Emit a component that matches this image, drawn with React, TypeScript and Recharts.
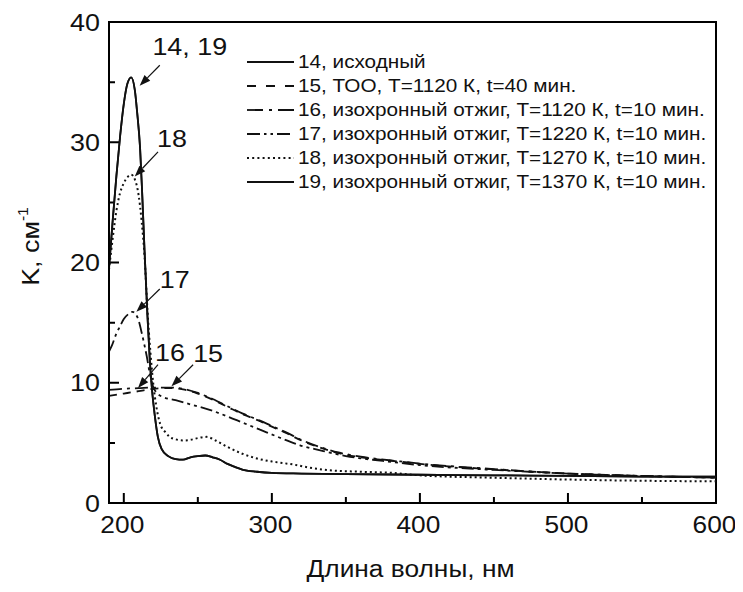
import React from 'react';
import { LineChart, Line, XAxis, YAxis, ReferenceLine } from 'recharts';

const FONT = '"Liberation Sans", Arial, Helvetica, sans-serif';
const STRETCH = 1.12; // шрифт на скане чуть растянут по горизонтали
const INK = '#111';
const FRAME = '#000';

// длина волны (нм) / K (см^-1)
const wl14 = [190, 192.5, 195, 197.5, 200, 202.5, 205, 207.5, 209, 211, 212.5, 214, 216, 217.5, 219, 221, 223, 225.5, 230, 235, 240, 245, 250, 255, 260, 265, 270, 275, 280, 290, 300, 320, 350, 400, 450, 500, 550, 600];
const k14 = [19.5, 23.5, 27.2, 30.5, 33.2, 34.9, 35.4, 34.3, 32.5, 29.5, 25.5, 21, 15.5, 12, 9.5, 7.2, 5.5, 4.5, 3.9, 3.65, 3.6, 3.8, 3.9, 3.95, 3.8, 3.6, 3.25, 3.0, 2.78, 2.6, 2.5, 2.45, 2.4, 2.35, 2.3, 2.25, 2.2, 2.2];

const wl15 = [190, 200, 210, 220, 231, 240, 250, 260, 270, 280, 292, 300, 310, 320, 332.6, 345, 360, 386.6, 400, 450, 500, 550, 600];
const k15 = [8.9, 9.1, 9.3, 9.5, 9.55, 9.45, 9.1, 8.6, 8.0, 7.4, 6.8, 6.35, 5.8, 5.2, 4.6, 4.15, 3.8, 3.44, 3.25, 2.8, 2.45, 2.25, 2.1];

const wl16 = [190, 200, 210, 220, 231, 240, 250, 260, 270, 280, 292, 300, 310, 320, 332.6, 345, 360, 386.6, 400, 450, 500, 550, 600];
const k16 = [9.4, 9.5, 9.55, 9.6, 9.6, 9.5, 9.15, 8.65, 8.05, 7.45, 6.85, 6.4, 5.85, 5.25, 4.65, 4.2, 3.85, 3.46, 3.28, 2.82, 2.45, 2.25, 2.12];

const wl17 = [190, 192, 195, 197.5, 200, 203, 206, 208, 210, 212, 214, 215.5, 217.5, 220, 222, 226.7, 235, 245, 258, 270, 280, 292, 305, 319, 332, 350, 375, 400, 450, 500, 550, 600];
const k17 = [12.6, 13.1, 14.1, 14.7, 15.3, 15.7, 15.9, 15.7, 15.2, 14.2, 13.1, 12.2, 10.8, 9.6, 9.2, 8.8, 8.55, 8.2, 7.75, 7.2, 6.7, 6.1, 5.45, 4.8, 4.4, 3.9, 3.5, 3.15, 2.75, 2.45, 2.25, 2.1];

const wl18 = [190, 192.5, 195, 197.5, 200, 202.5, 205, 207.5, 210, 212, 214, 216, 218, 220, 222, 224.5, 228, 231, 235, 240, 245, 250, 256, 262, 269.5, 280, 290, 300, 314.5, 325, 337, 360, 382, 400, 450, 500, 550, 600];
const k18 = [19.4, 22, 24.3, 25.8, 26.6, 27.1, 27.3, 26.9, 25.6, 23.5, 20.5, 16, 12.5, 9.8, 8, 6.6, 5.9, 5.5, 5.3, 5.2, 5.25, 5.4, 5.5, 5.2, 4.7, 4.1, 3.7, 3.45, 3.2, 2.95, 2.75, 2.6, 2.5, 2.3, 2.1, 1.95, 1.85, 1.8];

// кривая 19 совпадает с 14
const wl19 = wl14;
const k19 = k14;

const xDomain = [190, 600];
const yDomain = [0, 40];
const xTicks = [200, 250, 300, 350, 400, 450, 500, 550, 600];
const yTicks = [0, 5, 10, 15, 20, 25, 30, 35, 40];

const names = [
  '14, исходный',
  '15, ТОО, T=1120 К, t=40 мин.',
  '16, изохронный отжиг, T=1120 К, t=10 мин.',
  '17, изохронный отжиг, T=1220 К, t=10 мин.',
  '18, изохронный отжиг, T=1270 К, t=10 мин.',
  '19, изохронный отжиг, T=1370 К, t=10 мин.',
];

// подписи со стрелками: [нм, K] хвоста и острия
const arrows = [
  { text: '14, 19', tail: [224.3, 36.4], tip: [210.7, 34.7], dx: 30, dy: -19 },
  { text: '18', tail: [223.1, 29.2], tip: [207.4, 27.15], dx: 14, dy: -13 },
  { text: '17', tail: [224.3, 17.8], tip: [208.5, 15.9], dx: 15, dy: -10 },
  { text: '16', tail: [223.1, 11.5], tip: [209.6, 9.56], dx: 12, dy: -12 },
  { text: '15', tail: [246.8, 11.5], tip: [232.2, 9.7], dx: 15, dy: -11 },
];

const toPoints = (wl: number[], k: number[]) => wl.map((x, i) => ({ x, k: k[i] }));

const series = [
  { id: '14', data: toPoints(wl14, k14), dash: undefined, legendDash: undefined, width: 1.8 },
  { id: '15', data: toPoints(wl15, k15), dash: '8 6', legendDash: '9 10', width: 1.8 },
  { id: '16', data: toPoints(wl16, k16), dash: '13 5 3 5', legendDash: '16 6 3 6', width: 1.8 },
  { id: '17', data: toPoints(wl17, k17), dash: '12 4 3 4 3 4', legendDash: '13 4 2.5 4 2.5 4', width: 1.8 },
  { id: '18', data: toPoints(wl18, k18), dash: '2 3', legendDash: '2 3.2', width: 2 },
  { id: '19', data: toPoints(wl19, k19), dash: undefined, legendDash: undefined, width: 1.8 },
];

// рамка и засечки рисуются одним контуром по углам поля графика
const frameShape = (p: any) => {
  const left = Math.min(p.x1, p.x2);
  const right = Math.max(p.x1, p.x2);
  const top = Math.min(p.y1, p.y2);
  const bottom = Math.max(p.y1, p.y2);
  const sx = (right - left) / (xDomain[1] - xDomain[0]);
  const sy = (bottom - top) / (yDomain[1] - yDomain[0]);
  let d = `M${left},${top}H${right}V${bottom}H${left}Z`;
  xTicks.forEach((v) => {
    const x = left + (v - xDomain[0]) * sx;
    d += `M${x},${bottom}v${v % 100 === 0 ? -10 : -6}`;
  });
  yTicks.forEach((v) => {
    const y = bottom - (v - yDomain[0]) * sy;
    d += `M${left},${y}h${v % 10 === 0 ? 10 : 6}`;
  });
  return <path d={d} fill="none" stroke={FRAME} strokeWidth={2} />;
};

const XTick = (props: any) => {
  const { x, y, payload } = props;
  const v = payload.value;
  if (v % 100 !== 0) return <g />;
  return (
    <text transform={`translate(${x - 1.5},${y + 30}) scale(${STRETCH},1)`} textAnchor="middle"
      fontSize={23.5} fontFamily={FONT} fill={INK}>{v}</text>
  );
};

const YTick = (props: any) => {
  const { x, y, payload } = props;
  const v = payload.value;
  if (v % 10 !== 0) return <g />;
  return (
    <text transform={`translate(${x - 9},${y + 8.6}) scale(${STRETCH},1)`} textAnchor="end"
      fontSize={24} fontFamily={FONT} fill={INK}>{v}</text>
  );
};

const xTitle = (props: any) => {
  const vb = props.viewBox;
  return (
    <text transform={`translate(${vb.x + vb.width / 2 - 2},${vb.y + 73.5}) scale(${STRETCH},1)`}
      textAnchor="middle" fontSize={23.5} fontFamily={FONT} fill={INK}>
      Длина волны, нм
    </text>
  );
};

const yTitle = () => (
  <text transform={`translate(31,238.5) rotate(-90) scale(${STRETCH},1)`} textAnchor="middle"
    fontSize={24} fontFamily={FONT} fill={INK}>
    K, см<tspan dy={-11} fontSize={14}>-1</tspan>
  </text>
);

const arrowShape = (text: string, dx: number, dy: number) => (p: any) => {
  const { x1, y1, x2, y2 } = p;
  const ang = Math.atan2(y2 - y1, x2 - x1);
  const len = 11;
  const half = 4;
  const bx = x2 - len * Math.cos(ang);
  const by = y2 - len * Math.sin(ang);
  const nx = -Math.sin(ang) * half;
  const ny = Math.cos(ang) * half;
  return (
    <g>
      <line x1={x1} y1={y1} x2={bx} y2={by} stroke={INK} strokeWidth={1.2} />
      <polygon points={`${x2},${y2} ${bx + nx},${by + ny} ${bx - nx},${by - ny}`} fill={INK} />
      <text transform={`translate(${x1 + dx},${y1 + dy + 8.6}) scale(${STRETCH},1)`} textAnchor="middle"
        fontSize={24} fontFamily={FONT} fill={INK}>{text}</text>
    </g>
  );
};

const LegendBox = () => (
  <div style={{ position: 'absolute', left: 238.7, top: 42, fontFamily: FONT, color: INK, pointerEvents: 'none' }}>
    {series.map((s, i) => (
      <div key={`leg-${s.id}`} style={{ height: 24, display: 'flex', alignItems: 'center', whiteSpace: 'nowrap' }}>
        <svg width={47} height={24} style={{ flex: 'none' }}>
          <line x1={0} y1={12} x2={47} y2={12} stroke={INK} strokeWidth={s.width}
            strokeDasharray={s.legendDash} />
        </svg>
        <span style={{ marginLeft: 4.7, fontSize: 18.5, display: 'inline-block',
          transform: `scaleX(${STRETCH})`, transformOrigin: 'left center' }}>
          {names[i]}
        </span>
      </div>
    ))}
  </div>
);

export default function App() {
  return (
    <div style={{ position: 'relative', width: 735, height: 576 }}>
      <LineChart width={735} height={576} margin={{ top: 14, right: 27, left: 0, bottom: 0 }}>
        <XAxis dataKey="x" type="number" domain={xDomain} ticks={xTicks} interval={0}
          axisLine={{ stroke: FRAME, strokeWidth: 2 }} tickLine={false} tickSize={0} tickMargin={0}
          height={81} tick={<XTick />} label={{ content: xTitle }} />
        <YAxis type="number" domain={yDomain} ticks={yTicks} interval={0}
          axisLine={{ stroke: FRAME, strokeWidth: 2 }} tickLine={false} tickSize={0} tickMargin={0}
          width={101} tick={<YTick />} label={{ content: yTitle }} />
        <ReferenceLine key="frame"
          segment={[{ x: xDomain[0], y: yDomain[0] }, { x: xDomain[1], y: yDomain[1] }]}
          shape={frameShape} />
        {series.map((s) => (
          <Line key={`line-${s.id}`} data={s.data} dataKey="k" type="monotone" stroke={INK}
            strokeWidth={s.width} strokeDasharray={s.dash} dot={false} activeDot={false}
            isAnimationActive={false} />
        ))}
        {arrows.map((a) => (
          <ReferenceLine key={`arrow-${a.text}`}
            segment={[{ x: a.tail[0], y: a.tail[1] }, { x: a.tip[0], y: a.tip[1] }]}
            shape={arrowShape(a.text, a.dx, a.dy)} />
        ))}
      </LineChart>
      <LegendBox />
    </div>
  );
}
